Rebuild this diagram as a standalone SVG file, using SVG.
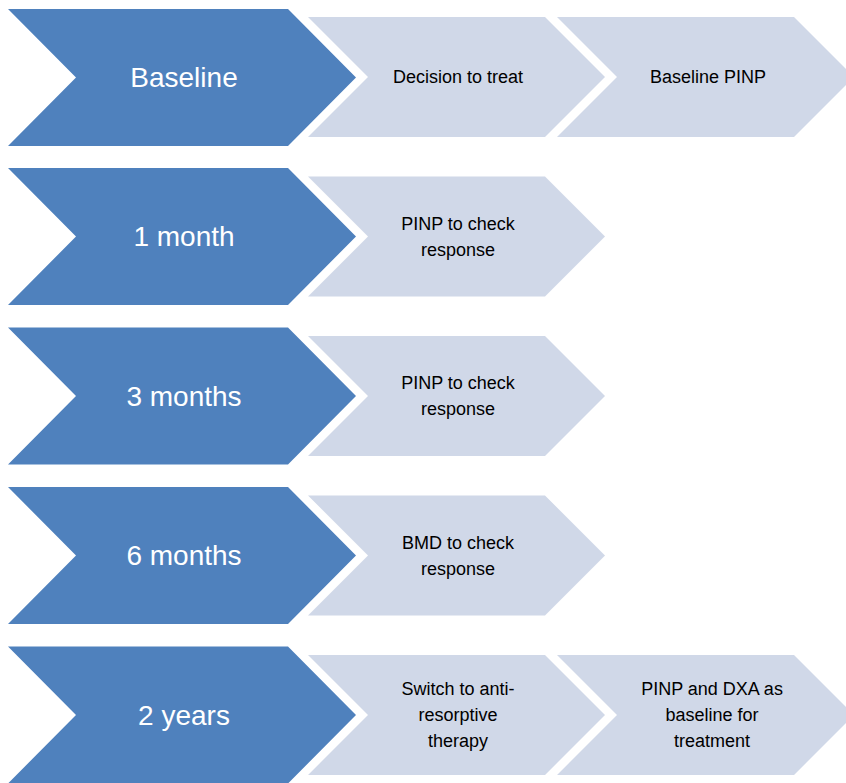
<svg xmlns="http://www.w3.org/2000/svg" width="846" height="783" viewBox="0 0 846 783">
<style>
.dark{fill:#4F81BD}
.light{fill:#D0D8E8}
.dt{font-family:"Liberation Sans",Arial,sans-serif;font-size:28px;fill:#FFFFFF;text-anchor:middle;dominant-baseline:central}
.lt{font-family:"Liberation Sans",Arial,sans-serif;font-size:18px;fill:#000000;text-anchor:middle;dominant-baseline:central}
</style>
<defs>
<polygon id="big" points="0,0 280,0 348,68.5 280,137 0,137 68,68.5"/>
<polygon id="small" points="0,0 237,0 297,60 237,120 0,120 60,60"/>
</defs>
<rect width="846" height="783" fill="#FFFFFF"/>

<g id="row1">
<g id="baseline"><use href="#big" x="8" y="9" class="dark"/><text class="dt" x="184" y="77">Baseline</text></g>
<g id="decision"><use href="#small" x="308" y="17" class="light"/><text class="lt" x="458" y="77">Decision to treat</text></g>
<g id="baseline-pinp"><use href="#small" x="557" y="17" class="light"/><text class="lt" x="708" y="77">Baseline PINP</text></g>
</g>

<g id="row2">
<g id="one-month"><use href="#big" x="8" y="168" class="dark"/><text class="dt" x="184" y="236.5">1 month</text></g>
<g id="pinp-1"><use href="#small" x="308" y="176.5" class="light"/><text class="lt" x="458" y="223.5">PINP to check</text><text class="lt" x="458" y="249.5">response</text></g>
</g>

<g id="row3">
<g id="three-months"><use href="#big" x="8" y="327.5" class="dark"/><text class="dt" x="184" y="396">3 months</text></g>
<g id="pinp-3"><use href="#small" x="308" y="336" class="light"/><text class="lt" x="458" y="383">PINP to check</text><text class="lt" x="458" y="409">response</text></g>
</g>

<g id="row4">
<g id="six-months"><use href="#big" x="8" y="487" class="dark"/><text class="dt" x="184" y="555.5">6 months</text></g>
<g id="bmd"><use href="#small" x="308" y="495.5" class="light"/><text class="lt" x="458" y="542.5">BMD to check</text><text class="lt" x="458" y="568.5">response</text></g>
</g>

<g id="row5">
<g id="two-years"><use href="#big" x="8" y="646.5" class="dark"/><text class="dt" x="184" y="715">2 years</text></g>
<g id="switch"><use href="#small" x="308" y="655" class="light"/><text class="lt" x="458" y="689">Switch to anti-</text><text class="lt" x="458" y="715">resorptive</text><text class="lt" x="458" y="741">therapy</text></g>
<g id="pinp-dxa"><use href="#small" x="557" y="655" class="light"/><text class="lt" x="712" y="689">PINP and DXA as</text><text class="lt" x="712" y="715">baseline for</text><text class="lt" x="712" y="741">treatment</text></g>
</g>
</svg>
